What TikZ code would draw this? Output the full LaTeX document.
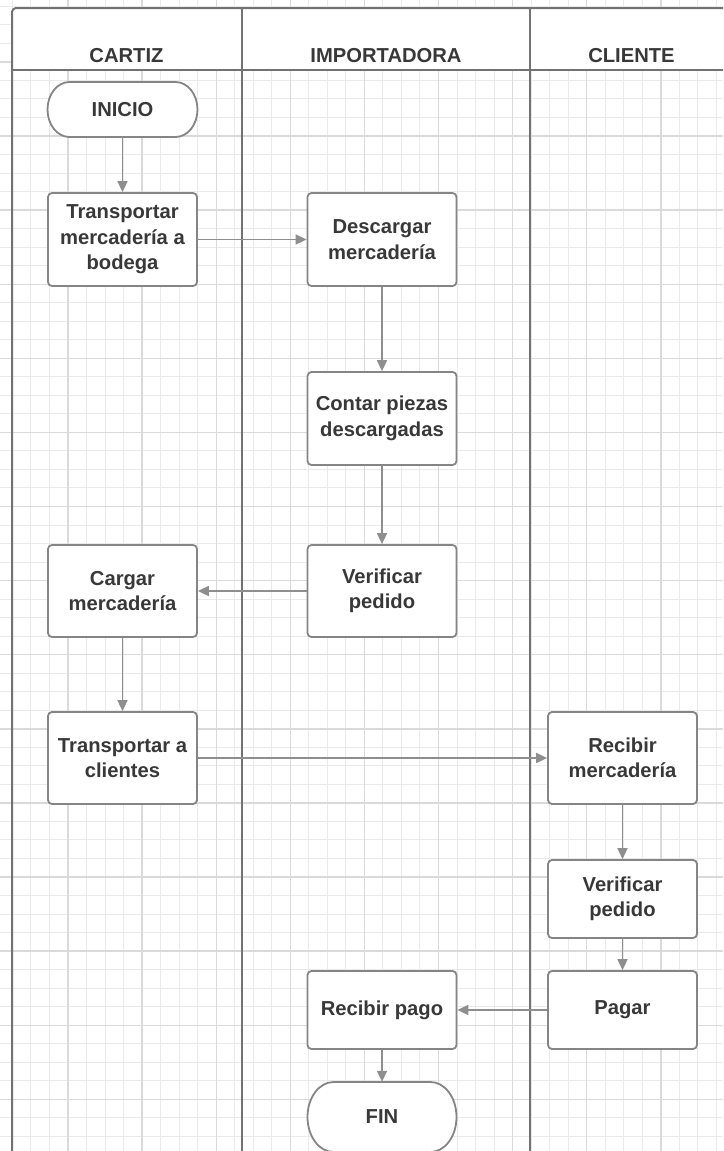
\documentclass[tikz,border=0pt]{standalone}
\usepackage{fontspec}
\setmainfont{Liberation Sans}
\usetikzlibrary{arrows.meta}
\definecolor{gridminor}{HTML}{EAEAEA}
\definecolor{gridmajor}{HTML}{DADADA}
\definecolor{poolline}{HTML}{727272}
\definecolor{boxline}{HTML}{858585}
\definecolor{flowline}{HTML}{8E8E8E}
\definecolor{labeltext}{HTML}{383838}

\begin{document}
\begin{tikzpicture}[x=1pt,y=1pt,
  every node/.style={font=\bfseries\fontsize{20.2}{25.5}\selectfont, text=labeltext},
  stepbox/.style={draw=boxline, line width=1.8pt, fill=white, rounded corners=4pt,
    minimum width=149pt, align=center, inner sep=0pt},
  termbox/.style={minimum width=149pt, inner sep=0pt, align=center},
  termline/.style={draw=boxline, line width=1.8pt, fill=white},
  flow/.style={draw=flowline, line width=1.7pt, -{Triangle[length=11pt,width=10pt]}},
  lane/.style={draw=poolline, line width=2pt},
  minorline/.style={draw=gridminor, line width=1pt},
  majorline/.style={draw=gridmajor, line width=1.4pt}
]
\useasboundingbox (0,0) rectangle (723,-1151);
\clip (0,0) rectangle (723,-1151);
\fill[white] (0,0) rectangle (723,-1151);

% background grid: minor every 18.525pt, major every fourth line
\foreach \i in {0,...,40}
  \draw[minorline] ({-6.1+18.525*\i},0) -- ++(0,-1151);
\foreach \j in {0,...,64}
  \draw[minorline] (0,{12.2-18.525*\j}) -- ++(723,0);
\foreach \i in {0,...,10}
  \draw[majorline] ({-6.1+74.1*\i},0) -- ++(0,-1151);
\foreach \j in {0,...,16}
  \draw[majorline] (0,{12.2-74.1*\j}) -- ++(723,0);

% pool with header row and three lanes
\fill[white] (12,-8) rectangle (740,-70);
\draw[lane, rounded corners=4pt] (12,-1160) -- (12,-8) -- (740,-8);
\draw[lane] (12,-70) -- (740,-70);
\draw[lane] (242,-8) -- (242,-1160);
\draw[lane] (530,-8) -- (530,-1160);

\node (hcartiz) at (126.5,-56) {CARTIZ};
\node (himport) at (386,-56) {IMPORTADORA};
\node (hcliente) at (631.5,-56) {CLIENTE};

% terminal outlines
\draw[termline] (69.5,-82) -- (175.5,-82)
  arc[start angle=90,end angle=-90,x radius=22pt,y radius=27.5pt]
  -- (69.5,-137)
  arc[start angle=270,end angle=90,x radius=22pt,y radius=27.5pt] -- cycle;
\draw[termline] (333.5,-1082) -- (430.5,-1082)
  arc[start angle=90,end angle=-90,x radius=26pt,y radius=35pt]
  -- (333.5,-1152)
  arc[start angle=270,end angle=90,x radius=26pt,y radius=35pt] -- cycle;

% process steps
\node[termbox, minimum height=55pt] (ini) at (122.5,-109.5) {INICIO};
\node[stepbox, minimum height=93pt] (t1) at (122.5,-239.5) {Transportar\\mercadería a\\bodega};
\node[stepbox, minimum height=93pt] (d1) at (382,-239.5) {Descargar\\mercadería};
\node[stepbox, minimum height=93pt] (c1) at (382,-418.5) {Contar piezas\\descargadas};
\node[stepbox, minimum height=92pt] (v1) at (382,-591) {Verificar\\pedido};
\node[stepbox, minimum height=92pt] (cg) at (122.5,-591) {Cargar\\mercadería};
\node[stepbox, minimum height=92pt] (tc) at (122.5,-758) {Transportar a\\clientes};
\node[stepbox, minimum height=92pt] (rm) at (622.5,-758) {Recibir\\mercadería};
\node[stepbox, minimum height=78pt] (vc) at (622.5,-899) {Verificar\\pedido};
\node[stepbox, minimum height=78pt] (pg) at (622.5,-1010) {Pagar};
\node[stepbox, minimum height=78pt] (rp) at (382,-1010) {Recibir pago};
\node[termbox, minimum height=70pt] (fin) at (382,-1117) {FIN};

% connectors
\draw[flow] (ini) -- (t1);
\draw[flow] (t1) -- (d1);
\draw[flow] (d1) -- (c1);
\draw[flow] (c1) -- (v1);
\draw[flow] (v1) -- (cg);
\draw[flow] (cg) -- (tc);
\draw[flow] (tc) -- (rm);
\draw[flow] (rm) -- (vc);
\draw[flow] (vc) -- (pg);
\draw[flow] (pg) -- (rp);
\draw[flow] (rp) -- (fin);
\end{tikzpicture}
\end{document}
